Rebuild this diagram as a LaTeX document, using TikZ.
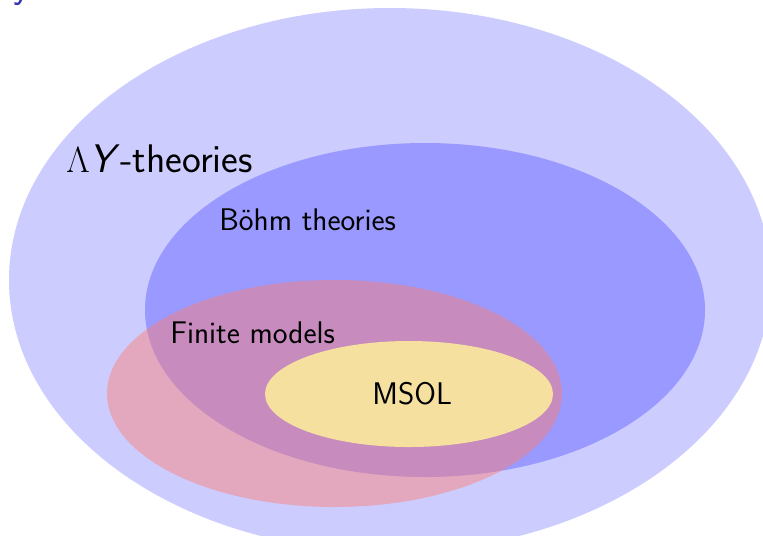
\documentclass[tikz,border=0pt]{standalone}
\usepackage{tikz}

\definecolor{outerblue}{RGB}{204,204,255}
\definecolor{bohmblue}{RGB}{153,153,255}
\definecolor{finpink}{RGB}{255,124,111}
\definecolor{msolyellow}{RGB}{245,224,160}
\definecolor{titleblue}{RGB}{51,51,179}

\begin{document}
\begin{tikzpicture}[x=0.02cm,y=-0.02cm,
    lbl/.style={anchor=base west, inner sep=0pt, font=\sffamily\fontsize{17.8}{20}\selectfont},
    biglbl/.style={lbl, font=\sffamily\fontsize{22.7}{25}\selectfont}]

\clip (0,0) rectangle (763,535);

% the sets
\fill [outerblue] (390,280) ellipse [x radius=381, y radius=272];
\fill [bohmblue] (425,310) ellipse [x radius=280, y radius=167];
\fill [finpink, fill opacity=0.45] (334.5,393.5) ellipse [x radius=227.5, y radius=113.5];
\fill [msolyellow] (409,394) ellipse [x radius=144, y radius=53];

% cut off title
\node (ytail) [biglbl, text=titleblue] at (13,-3) {y};

\node (lamy) [biglbl] at (66,172) {$\Lambda$\textit{Y}-theories};
\node (bohm) [lbl] at (219,230) {Böhm theories};
\node (fin) [lbl] at (170,343) {Finite models};
\node (msol) [lbl] at (372,404) {MSOL};

\end{tikzpicture}
\end{document}
